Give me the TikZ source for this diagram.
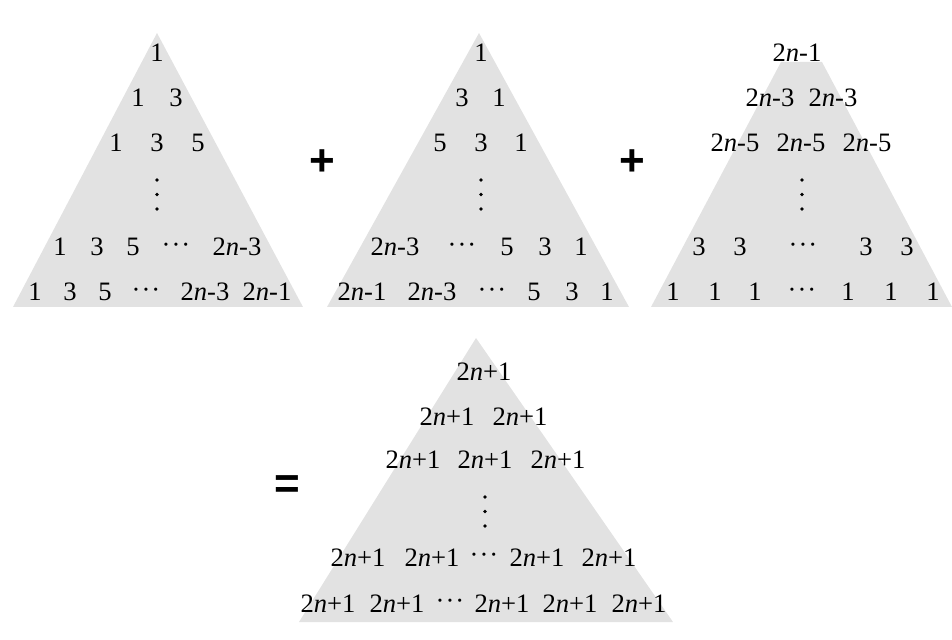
\documentclass[tikz,border=0pt]{standalone}
\usepackage{fontspec}
\setmainfont{Liberation Serif}
\newfontfamily\opfont{Liberation Sans}
\definecolor{trigray}{RGB}{226,226,226}
\newcommand\twon{2\textit{n}}
\newcommand\cdotrow{\raisebox{0.1em}{·\kern0.04em·\kern0.04em·}}

\begin{document}
\begin{tikzpicture}[x=0.5pt,y=-0.5pt,
  num/.style={inner sep=0pt, anchor=base, font=\fontsize{13.3}{15}\selectfont},
  op/.style={inner sep=0pt, font=\opfont\bfseries\fontsize{22}{24}\selectfont},
  tri/.style={fill=trigray, draw=none},
  vdot/.style={fill=black}]
\useasboundingbox (0,0) rectangle (952,640);

% the four grey triangles
\fill[tri] (157,33) -- (303,307) -- (13,307) -- cycle;
\fill[tri] (479,33) -- (629,307) -- (327,307) -- cycle;
\fill[tri] (781,62) -- (822,62) -- (952,307) -- (651,307) -- cycle;
\fill[tri] (476,338) -- (673,622) -- (299,622) -- cycle;

% vertical dots in each triangle
\foreach \x/\y in {157/180, 481/180, 802/180, 485/497}
  \foreach \d in {0,14.5,29}
    \fill[vdot] (\x,\y+\d) circle[radius=1.8];

% first triangle: odd numbers rising
\node[num] (a1) at (157,62) {1};
\node[num] (a21) at (138,107) {1};
\node[num] (a22) at (176,107) {3};
\node[num] (a31) at (116,152) {1};
\node[num] (a32) at (157,152) {3};
\node[num] (a33) at (198,152) {5};
\node[num] (a51) at (60,256) {1};
\node[num] (a52) at (97,256) {3};
\node[num] (a53) at (133,256) {5};
\node[num] (a54) at (176,256) {\cdotrow};
\node[num] (a55) at (237,256) {\twon-3};
\node[num] (a61) at (35,301) {1};
\node[num] (a62) at (70,301) {3};
\node[num] (a63) at (105,301) {5};
\node[num] (a64) at (146,301) {\cdotrow};
\node[num] (a65) at (205,301) {\twon-3};
\node[num] (a66) at (267,301) {\twon-1};

\node[op] (plus1) at (322,163) {+};

% second triangle: odd numbers falling
\node[num] (b1) at (481,62) {1};
\node[num] (b21) at (462,107) {3};
\node[num] (b22) at (499,107) {1};
\node[num] (b31) at (440,152) {5};
\node[num] (b32) at (481,152) {3};
\node[num] (b33) at (521,152) {1};
\node[num] (b51) at (395,256) {\twon-3};
\node[num] (b52) at (462,256) {\cdotrow};
\node[num] (b53) at (507,256) {5};
\node[num] (b54) at (545,256) {3};
\node[num] (b55) at (581,256) {1};
\node[num] (b61) at (362,301) {\twon-1};
\node[num] (b62) at (432,301) {\twon-3};
\node[num] (b63) at (492,301) {\cdotrow};
\node[num] (b64) at (534,301) {5};
\node[num] (b65) at (572,301) {3};
\node[num] (b66) at (607,301) {1};

\node[op] (plus2) at (632,163) {+};

% third triangle: constant rows
\node[num] (c1) at (797,62) {\twon-1};
\node[num] (c21) at (770,107) {\twon-3};
\node[num] (c22) at (833,107) {\twon-3};
\node[num] (c31) at (735,152) {\twon-5};
\node[num] (c32) at (801,152) {\twon-5};
\node[num] (c33) at (867,152) {\twon-5};
\node[num] (c51) at (699,256) {3};
\node[num] (c52) at (740,256) {3};
\node[num] (c53) at (803,256) {\cdotrow};
\node[num] (c54) at (866,256) {3};
\node[num] (c55) at (907,256) {3};
\node[num] (c61) at (673,301) {1};
\node[num] (c62) at (715,301) {1};
\node[num] (c63) at (755,301) {1};
\node[num] (c64) at (802,301) {\cdotrow};
\node[num] (c65) at (848,301) {1};
\node[num] (c66) at (891,301) {1};
\node[num] (c67) at (933,301) {1};

\node[op] (eq) at (287,487) {=};

% sum triangle
\node[num] (d1) at (484,381) {\twon+1};
\node[num] (d21) at (447,426) {\twon+1};
\node[num] (d22) at (520,426) {\twon+1};
\node[num] (d31) at (413,469) {\twon+1};
\node[num] (d32) at (485,469) {\twon+1};
\node[num] (d33) at (558,469) {\twon+1};
\node[num] (d51) at (358,566) {\twon+1};
\node[num] (d52) at (432,566) {\twon+1};
\node[num] (d53) at (484,566) {\cdotrow};
\node[num] (d54) at (537,566) {\twon+1};
\node[num] (d55) at (609,566) {\twon+1};
\node[num] (d61) at (328,612) {\twon+1};
\node[num] (d62) at (397,612) {\twon+1};
\node[num] (d63) at (450,612) {\cdotrow};
\node[num] (d64) at (502,612) {\twon+1};
\node[num] (d65) at (570,612) {\twon+1};
\node[num] (d66) at (639,612) {\twon+1};
\end{tikzpicture}
\end{document}
